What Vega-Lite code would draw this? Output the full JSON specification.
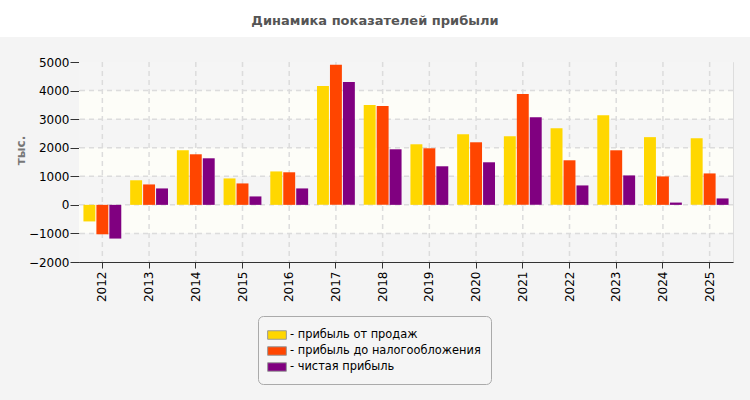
{
  "$schema": "https://vega.github.io/schema/vega-lite/v6.json",
  "padding": {"left": 0, "top": 0, "right": 0, "bottom": 17},
  "background": "#f4f4f4",
  "columns": 1,
  "spacing": 18,
  "config": {
    "axis": {
      "labelFont": "DejaVu Sans",
      "labelFontSize": 12,
      "labelColor": "#000000",
      "domainColor": "#333333",
      "tickColor": "#333333",
      "grid": false
    }
  },
  "datasets": {
    "bands": [
      {"lo": 4000, "hi": 5000, "kind": "hatch"},
      {"lo": 3000, "hi": 4000, "kind": "plain"},
      {"lo": 2000, "hi": 3000, "kind": "hatch"},
      {"lo": 1000, "hi": 2000, "kind": "plain"},
      {"lo": 0, "hi": 1000, "kind": "hatch"},
      {"lo": -1000, "hi": 0, "kind": "plain"},
      {"lo": -2000, "hi": -1000, "kind": "hatch"}
    ],
    "profit": [
      {"year": "2012", "metric": "прибыль от продаж", "value": -580},
      {"year": "2012", "metric": "прибыль до налогообложения", "value": -1030},
      {"year": "2012", "metric": "чистая прибыль", "value": -1180},
      {"year": "2013", "metric": "прибыль от продаж", "value": 860},
      {"year": "2013", "metric": "прибыль до налогообложения", "value": 715},
      {"year": "2013", "metric": "чистая прибыль", "value": 575},
      {"year": "2014", "metric": "прибыль от продаж", "value": 1910},
      {"year": "2014", "metric": "прибыль до налогообложения", "value": 1770},
      {"year": "2014", "metric": "чистая прибыль", "value": 1630},
      {"year": "2015", "metric": "прибыль от продаж", "value": 925},
      {"year": "2015", "metric": "прибыль до налогообложения", "value": 750},
      {"year": "2015", "metric": "чистая прибыль", "value": 295},
      {"year": "2016", "metric": "прибыль от продаж", "value": 1170},
      {"year": "2016", "metric": "прибыль до налогообложения", "value": 1140},
      {"year": "2016", "metric": "чистая прибыль", "value": 575},
      {"year": "2017", "metric": "прибыль от продаж", "value": 4160},
      {"year": "2017", "metric": "прибыль до налогообложения", "value": 4900},
      {"year": "2017", "metric": "чистая прибыль", "value": 4300},
      {"year": "2018", "metric": "прибыль от продаж", "value": 3495},
      {"year": "2018", "metric": "прибыль до налогообложения", "value": 3460},
      {"year": "2018", "metric": "чистая прибыль", "value": 1945},
      {"year": "2019", "metric": "прибыль от продаж", "value": 2120},
      {"year": "2019", "metric": "прибыль до налогообложения", "value": 1980},
      {"year": "2019", "metric": "чистая прибыль", "value": 1350},
      {"year": "2020", "metric": "прибыль от продаж", "value": 2475},
      {"year": "2020", "metric": "прибыль до налогообложения", "value": 2190},
      {"year": "2020", "metric": "чистая прибыль", "value": 1490},
      {"year": "2021", "metric": "прибыль от продаж", "value": 2405},
      {"year": "2021", "metric": "прибыль до налогообложения", "value": 3880},
      {"year": "2021", "metric": "чистая прибыль", "value": 3070},
      {"year": "2022", "metric": "прибыль от продаж", "value": 2685},
      {"year": "2022", "metric": "прибыль до налогообложения", "value": 1560},
      {"year": "2022", "metric": "чистая прибыль", "value": 680},
      {"year": "2023", "metric": "прибыль от продаж", "value": 3140},
      {"year": "2023", "metric": "прибыль до налогообложения", "value": 1910},
      {"year": "2023", "metric": "чистая прибыль", "value": 1030},
      {"year": "2024", "metric": "прибыль от продаж", "value": 2370},
      {"year": "2024", "metric": "прибыль до налогообложения", "value": 995},
      {"year": "2024", "metric": "чистая прибыль", "value": 80},
      {"year": "2025", "metric": "прибыль от продаж", "value": 2335},
      {"year": "2025", "metric": "прибыль до налогообложения", "value": 1100},
      {"year": "2025", "metric": "чистая прибыль", "value": 225}
    ]
  },
  "concat": [
    {
      "width": 750,
      "height": 37,
      "view": {"fill": "#ffffff", "stroke": null},
      "data": {"values": [{"caption": "Динамика показателей прибыли"}]},
      "mark": {
        "type": "text",
        "font": "DejaVu Sans",
        "fontSize": 13,
        "fontWeight": "bold",
        "color": "#555555",
        "baseline": "middle",
        "dy": 2
      },
      "encoding": {"text": {"field": "caption", "type": "nominal"}}
    },
    {
      "spacing": 0,
      "hconcat": [
        {
          "width": 1,
          "height": 1,
          "view": {"stroke": null},
          "data": {"values": [{}]},
          "mark": {"type": "rect", "opacity": 0},
          "encoding": {}
        },
        {
          "width": 654,
          "height": 200,
          "view": {"stroke": "#dddddd", "strokeWidth": 1},
          "layer": [
            {
              "data": {"name": "bands"},
              "mark": {"type": "rect"},
              "encoding": {
                "y": {
                  "field": "lo",
                  "type": "quantitative",
                  "scale": {"domain": [-2000, 5000], "nice": false, "zero": false},
                  "axis": {
                    "title": ["", "тыс."],
                    "titleFont": "DejaVu Sans",
                    "titleFontSize": 12,
                    "titleFontWeight": "bold",
                    "titleColor": "#777777",
                    "titleLineHeight": 12,
                    "titleX": -76,
                    "titleY": 88,
                    "titleAlign": "center",
                    "titleBaseline": "top",
                    "values": [-2000, -1000, 0, 1000, 2000, 3000, 4000, 5000],
                    "tickCount": 10,
                    "format": "d",
                    "labelOverlap": false,
                    "tickSize": 9,
                    "labelPadding": 1
                  }
                },
                "y2": {"field": "hi"},
                "fill": {
                  "field": "kind",
                  "type": "nominal",
                  "scale": {"domain": ["hatch", "plain"], "range": ["#f5f5f5", "#fdfdf8"]},
                  "legend": null
                }
              }
            },
            {
              "data": {"name": "bands"},
              "transform": [{"filter": "datum.lo > -2000"}],
              "mark": {"type": "rule", "color": "#dcdcdc", "strokeWidth": 1.5, "strokeDash": [5, 4]},
              "encoding": {
                "y": {"field": "lo", "type": "quantitative"}
              }
            },
            {
              "data": {"name": "profit"},
              "transform": [{"filter": "datum.metric == 'чистая прибыль'"}],
              "mark": {"type": "rule", "color": "#dcdcdc", "strokeWidth": 1.5, "strokeDash": [5, 4]},
              "encoding": {
                "x": {"field": "year", "type": "nominal"}
              }
            },
            {
              "data": {"name": "profit"},
              "mark": {"type": "bar"},
              "encoding": {
                "x": {
                  "field": "year",
                  "type": "nominal",
                  "scale": {"paddingInner": 0.19, "paddingOuter": 0.095},
                  "axis": {
                    "title": null,
                    "labelAngle": -90,
                    "labelPadding": 3,
                    "tickSize": 6
                  }
                },
                "xOffset": {
                  "field": "metric",
                  "type": "nominal",
                  "scale": {
                    "domain": ["прибыль от продаж", "прибыль до налогообложения", "чистая прибыль"],
                    "paddingInner": 0.08,
                    "paddingOuter": 0
                  }
                },
                "y": {"field": "value", "type": "quantitative"},
                "color": {
                  "field": "metric",
                  "type": "nominal",
                  "scale": {
                    "domain": ["прибыль от продаж", "прибыль до налогообложения", "чистая прибыль"],
                    "range": ["#ffd700", "#ff4500", "#800080"]
                  },
                  "legend": {
                    "title": null,
                    "orient": "none",
                    "legendX": 258,
                    "legendY": 316,
                    "direction": "vertical",
                    "padding": 10,
                    "strokeColor": "#aaaaaa",
                    "fillColor": "#f5f5f5",
                    "cornerRadius": 5,
                    "symbolType": "M-1.1,-0.5H1.1V0.5H-1.1Z",
                    "symbolSize": 289,
                    "symbolStrokeColor": "#999999",
                    "symbolStrokeWidth": 1,
                    "symbolOpacity": 1,
                    "rowPadding": 0,
                    "labelOffset": 4,
                    "labelFont": "DejaVu Sans",
                    "labelFontSize": 11.4,
                    "labelColor": "#000000",
                    "labelLimit": 300,
                    "labelExpr": "'- ' + datum.label"
                  }
                }
              }
            }
          ]
        }
      ]
    }
  ]
}
